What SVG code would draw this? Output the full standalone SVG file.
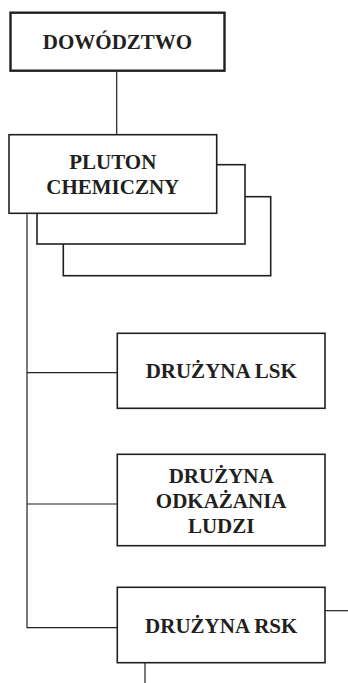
<svg xmlns="http://www.w3.org/2000/svg" width="348" height="683" viewBox="0 0 348 683">
<style>
.box{fill:#fff;stroke:#231f20;stroke-width:1.6}
.thick{stroke-width:2.4}
.conn{fill:none;stroke:#231f20;stroke-width:1.2}
text{font-family:"Liberation Serif","Times New Roman",serif;font-weight:bold;font-size:21px;fill:#231f20;text-anchor:middle}
</style>
<rect width="348" height="683" fill="#fff"/>
<g id="connectors">
<line class="conn" x1="116.7" y1="70.7" x2="116.7" y2="134.7"/>
<polyline class="conn" points="27,213.3 27,627.7 117.3,627.7"/>
<line class="conn" x1="27" y1="372.7" x2="117.3" y2="372.7"/>
<line class="conn" x1="27" y1="504" x2="117.3" y2="504"/>
<line class="conn" x1="325" y1="610.7" x2="348" y2="610.7"/>
<line class="conn" x1="145" y1="662.7" x2="145" y2="683"/>
</g>
<g id="pluton-stack">
<rect class="box" x="63.3" y="196.7" width="207.4" height="79"/>
<rect class="box" x="37" y="164.7" width="208" height="79.3"/>
</g>
<g id="dowodztwo">
<rect class="box thick" x="10.5" y="12.7" width="214" height="58"/>
<text x="117.5" y="49">DOWÓDZTWO</text>
</g>
<g id="pluton">
<rect class="box" x="9" y="134.7" width="207.7" height="78.6"/>
<text x="112.8" y="169">PLUTON</text>
<text x="112.8" y="194">CHEMICZNY</text>
</g>
<g id="druzyna-lsk">
<rect class="box" x="117.3" y="333.3" width="207.7" height="75"/>
<text x="221.2" y="378.3">DRUŻYNA LSK</text>
</g>
<g id="druzyna-odkazania">
<rect class="box" x="117.3" y="454.3" width="207.7" height="91.4"/>
<text x="221.2" y="482.7">DRUŻYNA</text>
<text x="221.2" y="507.7">ODKAŻANIA</text>
<text x="221.2" y="533.3">LUDZI</text>
</g>
<g id="druzyna-rsk">
<rect class="box" x="117.3" y="587.3" width="207.7" height="75.4"/>
<text x="221.2" y="632.7">DRUŻYNA RSK</text>
</g>
</svg>
